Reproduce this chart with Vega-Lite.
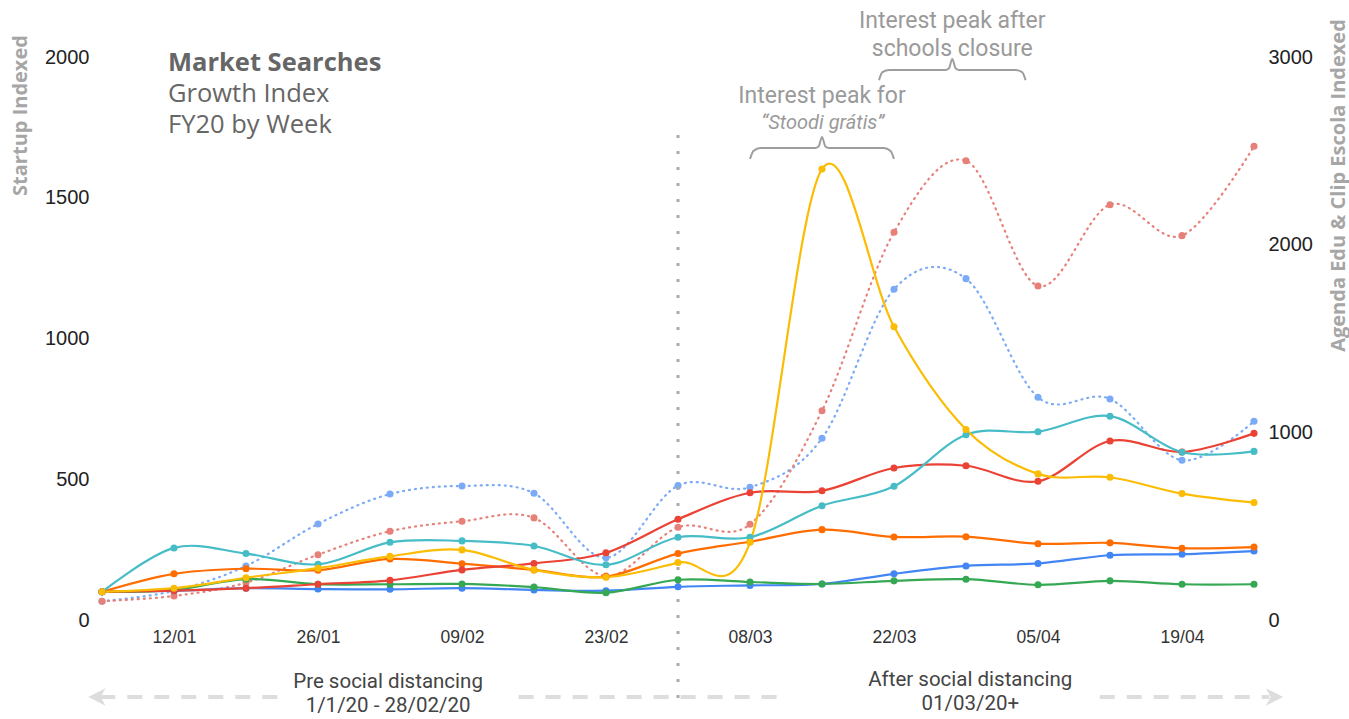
{
  "$schema": "https://vega.github.io/schema/vega-lite/v6.json",
  "width": 1152,
  "height": 563,
  "autosize": {"type": "none"},
  "padding": {"left": 102, "top": 57, "right": 95, "bottom": 99},
  "background": "white",
  "config": {
    "view": {"stroke": null},
    "axis": {"grid": false, "domain": false, "ticks": false, "labelFont": "Liberation Sans", "titleFont": "Open Sans"}
  },
  "datasets": {
    "startup": [
      {"week": "2020/01/05", "Blue": 100, "Green": 100, "Orange": 100, "Red": 100, "Teal": 100, "Yellow": 100},
      {"week": "2020/01/12", "Blue": 104, "Green": 107, "Orange": 164, "Red": 104, "Teal": 256, "Yellow": 113},
      {"week": "2020/01/19", "Blue": 113, "Green": 145, "Orange": 182, "Red": 113, "Teal": 236, "Yellow": 150},
      {"week": "2020/01/26", "Blue": 110, "Green": 127, "Orange": 177, "Red": 127, "Teal": 198, "Yellow": 184},
      {"week": "2020/02/02", "Blue": 109, "Green": 127, "Orange": 217, "Red": 141, "Teal": 276, "Yellow": 226},
      {"week": "2020/02/09", "Blue": 113, "Green": 128, "Orange": 200, "Red": 178, "Teal": 281, "Yellow": 249},
      {"week": "2020/02/16", "Blue": 107, "Green": 117, "Orange": 178, "Red": 201, "Teal": 263, "Yellow": 178},
      {"week": "2020/02/23", "Blue": 104, "Green": 97, "Orange": 154, "Red": 239, "Teal": 196, "Yellow": 152},
      {"week": "2020/03/01", "Blue": 118, "Green": 143, "Orange": 236, "Red": 358, "Teal": 294, "Yellow": 204},
      {"week": "2020/03/08", "Blue": 123, "Green": 135, "Orange": 278, "Red": 452, "Teal": 294, "Yellow": 276},
      {"week": "2020/03/15", "Blue": 128, "Green": 128, "Orange": 321, "Red": 459, "Teal": 406, "Yellow": 1602},
      {"week": "2020/03/22", "Blue": 164, "Green": 139, "Orange": 295, "Red": 540, "Teal": 475, "Yellow": 1042},
      {"week": "2020/03/29", "Blue": 192, "Green": 145, "Orange": 296, "Red": 548, "Teal": 658, "Yellow": 677},
      {"week": "2020/04/05", "Blue": 201, "Green": 125, "Orange": 271, "Red": 493, "Teal": 669, "Yellow": 519},
      {"week": "2020/04/12", "Blue": 230, "Green": 139, "Orange": 274, "Red": 636, "Teal": 724, "Yellow": 507},
      {"week": "2020/04/19", "Blue": 234, "Green": 127, "Orange": 255, "Red": 597, "Teal": 596, "Yellow": 449},
      {"week": "2020/04/26", "Blue": 245, "Green": 127, "Orange": 259, "Red": 663, "Teal": 599, "Yellow": 417}
    ],
    "apps": [
      {"week": "2020/01/05", "Agenda Edu": 100, "Clip Escola": 100},
      {"week": "2020/01/12", "Agenda Edu": 155, "Clip Escola": 128},
      {"week": "2020/01/19", "Agenda Edu": 288, "Clip Escola": 199},
      {"week": "2020/01/26", "Agenda Edu": 512, "Clip Escola": 348},
      {"week": "2020/02/02", "Agenda Edu": 671, "Clip Escola": 473},
      {"week": "2020/02/09", "Agenda Edu": 714, "Clip Escola": 526},
      {"week": "2020/02/16", "Agenda Edu": 675, "Clip Escola": 544},
      {"week": "2020/02/23", "Agenda Edu": 332, "Clip Escola": 234},
      {"week": "2020/03/01", "Agenda Edu": 716, "Clip Escola": 494},
      {"week": "2020/03/08", "Agenda Edu": 707, "Clip Escola": 510},
      {"week": "2020/03/15", "Agenda Edu": 968, "Clip Escola": 1115},
      {"week": "2020/03/22", "Agenda Edu": 1762, "Clip Escola": 2066},
      {"week": "2020/03/29", "Agenda Edu": 1819, "Clip Escola": 2447},
      {"week": "2020/04/05", "Agenda Edu": 1187, "Clip Escola": 1780},
      {"week": "2020/04/12", "Agenda Edu": 1178, "Clip Escola": 2213},
      {"week": "2020/04/19", "Agenda Edu": 851, "Clip Escola": 2048},
      {"week": "2020/04/26", "Agenda Edu": 1059, "Clip Escola": 2524}
    ]
  },
  "layer": [
    {
      "data": {"name": "apps"},
      "transform": [{"fold": ["Agenda Edu", "Clip Escola"], "as": ["series", "v"]}],
      "encoding": {
        "x": {"field": "week", "type": "temporal", "scale": {"domain": [{"year": 2020, "month": 1, "date": 5}, {"year": 2020, "month": 4, "date": 26}]}},
        "y": {
          "field": "v", "type": "quantitative",
          "scale": {"domain": [0, 3000], "nice": false},
          "axis": {"orient": "right", "values": [0, 1000, 2000, 3000], "format": "d", "labelFontSize": 20, "labelColor": "#222", "labelPadding": 14,
            "title": "Agenda Edu & Clip Escola Indexed", "titleFontSize": 20, "titleFontWeight": "bold", "titleColor": "#a6a6a6",
            "titleAngle": 270, "titleX": 84, "titleY": 128, "titleAlign": "center", "titleBaseline": "middle"}
        },
        "color": {"field": "series", "type": "nominal", "legend": null,
          "scale": {"domain": ["Agenda Edu", "Clip Escola", "Blue", "Green", "Orange", "Red", "Teal", "Yellow"],
            "range": ["#7BAAF7", "#E8807A", "#4285F4", "#34A853", "#FF6D01", "#EA4335", "#46BDC6", "#FBBC04"]}}
      },
      "layer": [
        {"mark": {"type": "line", "interpolate": "cardinal", "strokeWidth": 2.2, "strokeDash": [1, 5], "strokeCap": "round"}},
        {"mark": {"type": "point", "filled": true, "opacity": 1, "size": 50}}
      ]
    },
    {
      "encoding": {
        "x": {"field": "week", "type": "temporal",
          "scale": {"domain": [{"year": 2020, "month": 1, "date": 5}, {"year": 2020, "month": 4, "date": 26}]},
          "axis": {"values": [
            {"year": 2020, "month": 1, "date": 12}, {"year": 2020, "month": 1, "date": 26},
            {"year": 2020, "month": 2, "date": 9}, {"year": 2020, "month": 2, "date": 23},
            {"year": 2020, "month": 3, "date": 8}, {"year": 2020, "month": 3, "date": 22},
            {"year": 2020, "month": 4, "date": 5}, {"year": 2020, "month": 4, "date": 19}],
            "format": "%d/%m", "title": null, "labelFontSize": 17.5, "labelColor": "#333", "labelPadding": 8}
        },
        "y": {"field": "v", "type": "quantitative",
          "scale": {"domain": [0, 2000], "nice": false},
          "axis": {"orient": "left", "values": [0, 500, 1000, 1500, 2000], "format": "d", "labelFontSize": 20, "labelColor": "#222", "labelPadding": 13,
            "title": "Startup Indexed", "titleFontSize": 20, "titleFontWeight": "bold", "titleColor": "#a6a6a6",
            "titleAngle": 270, "titleX": -82, "titleY": 58, "titleAlign": "center", "titleBaseline": "middle"}
        }
      },
      "layer": [
        {
          "data": {"values": [{"week": "2020/03/01", "v": 1723, "v2": -302}]},
          "mark": {"type": "rule", "color": "#aaaaaa", "strokeWidth": 3, "strokeDash": [3, 13]},
          "encoding": {"y2": {"field": "v2"}}
        },
        {
          "data": {"values": [
            {"week": "2020/01/04 20:00", "end": "2020/01/22 18:00", "v": -273.5},
            {"week": "2020/02/14 12:00", "end": "2020/03/11 10:00", "v": -273.5},
            {"week": "2020/04/11 00:00", "end": "2020/04/27 12:00", "v": -273.5}
          ]},
          "mark": {"type": "rule", "color": "#dddddd", "strokeWidth": 4, "strokeDash": [15, 12]},
          "encoding": {"x2": {"field": "end"}}
        },
        {
          "data": {"values": [{"week": "2020/01/04 12:00", "v": -273.5}]},
          "mark": {"type": "point", "filled": true, "opacity": 1, "color": "#dddddd", "size": 300, "shape": "M -1 0 L 1 -1 L 0.45 0 L 1 1 Z"}
        },
        {
          "data": {"values": [{"week": "2020/04/28 00:00", "v": -273.5}]},
          "mark": {"type": "point", "filled": true, "opacity": 1, "color": "#dddddd", "size": 300, "shape": "M 1 0 L -1 -1 L -0.45 0 L -1 1 Z"}
        },
        {
          "data": {"values": [
            {"b": 1, "week": "2020/03/08 00:00", "v": 1638},
            {"b": 1, "week": "2020/03/08 08:00", "v": 1666},
            {"b": 1, "week": "2020/03/09 00:00", "v": 1677},
            {"b": 1, "week": "2020/03/14 08:00", "v": 1677},
            {"b": 1, "week": "2020/03/14 16:00", "v": 1682},
            {"b": 1, "week": "2020/03/15 00:00", "v": 1716},
            {"b": 1, "week": "2020/03/15 08:00", "v": 1682},
            {"b": 1, "week": "2020/03/15 16:00", "v": 1677},
            {"b": 1, "week": "2020/03/21 00:00", "v": 1677},
            {"b": 1, "week": "2020/03/21 16:00", "v": 1666},
            {"b": 1, "week": "2020/03/22 00:00", "v": 1638},
            {"b": 2, "week": "2020/03/20 13:00", "v": 1918},
            {"b": 2, "week": "2020/03/20 21:00", "v": 1946},
            {"b": 2, "week": "2020/03/21 13:00", "v": 1954},
            {"b": 2, "week": "2020/03/27 00:00", "v": 1954},
            {"b": 2, "week": "2020/03/27 08:00", "v": 1959},
            {"b": 2, "week": "2020/03/27 16:00", "v": 1993},
            {"b": 2, "week": "2020/03/28 00:00", "v": 1959},
            {"b": 2, "week": "2020/03/28 08:00", "v": 1954},
            {"b": 2, "week": "2020/04/02 19:00", "v": 1954},
            {"b": 2, "week": "2020/04/03 11:00", "v": 1946},
            {"b": 2, "week": "2020/04/03 19:00", "v": 1918}
          ]},
          "mark": {"type": "line", "interpolate": "monotone", "color": "#9e9e9e", "strokeWidth": 2},
          "encoding": {"detail": {"field": "b", "type": "nominal"}}
        },
        {
          "data": {"name": "startup"},
          "transform": [{"fold": ["Blue", "Green", "Orange", "Red", "Teal", "Yellow"], "as": ["series", "v"]}],
          "encoding": {
            "color": {"field": "series", "type": "nominal", "legend": null,
              "scale": {"domain": ["Agenda Edu", "Clip Escola", "Blue", "Green", "Orange", "Red", "Teal", "Yellow"],
                "range": ["#7BAAF7", "#E8807A", "#4285F4", "#34A853", "#FF6D01", "#EA4335", "#46BDC6", "#FBBC04"]}}
          },
          "layer": [
            {"mark": {"type": "line", "interpolate": "cardinal", "strokeWidth": 2.2}},
            {"mark": {"type": "point", "filled": true, "opacity": 1, "size": 50}}
          ]
        },
        {
          "data": {"values": [{"week": "2020/01/11 10:00", "v": 1951, "t": "Market Searches"}]},
          "mark": {"type": "text", "align": "left", "baseline": "alphabetic", "font": "Open Sans", "fontSize": 25.5, "fontWeight": "bold", "color": "#666666"},
          "encoding": {"text": {"field": "t"}}
        },
        {
          "data": {"values": [
            {"week": "2020/01/11 10:00", "v": 1841, "t": "Growth Index"},
            {"week": "2020/01/11 10:00", "v": 1729, "t": "FY20 by Week"}
          ]},
          "mark": {"type": "text", "align": "left", "baseline": "alphabetic", "font": "Open Sans", "fontSize": 25.5, "color": "#666666"},
          "encoding": {"text": {"field": "t"}}
        },
        {
          "data": {"values": [
            {"week": "2020/03/15 00:00", "v": 1836, "t": "Interest peak for"},
            {"week": "2020/03/27 16:00", "v": 2102, "t": "Interest peak after"},
            {"week": "2020/03/27 16:00", "v": 2004, "t": "schools closure"}
          ]},
          "mark": {"type": "text", "align": "center", "baseline": "alphabetic", "font": "Roboto", "fontSize": 23, "color": "#9a9a9a"},
          "encoding": {"text": {"field": "t"}}
        },
        {
          "data": {"values": [{"week": "2020/03/15 02:00", "v": 1743, "t": "“Stoodi grátis”"}]},
          "mark": {"type": "text", "align": "center", "baseline": "alphabetic", "font": "Roboto", "fontSize": 20, "fontStyle": "italic", "color": "#9a9a9a"},
          "encoding": {"text": {"field": "t"}}
        },
        {
          "data": {"values": [
            {"week": "2020/02/01 19:30", "v": -220, "t": "Pre social distancing"},
            {"week": "2020/02/01 19:30", "v": -305, "t": "1/1/20 - 28/02/20"},
            {"week": "2020/03/29 10:00", "v": -213, "t": "After social distancing"},
            {"week": "2020/03/29 10:00", "v": -298, "t": "01/03/20+"}
          ]},
          "mark": {"type": "text", "align": "center", "baseline": "middle", "font": "Roboto", "fontSize": 20.5, "color": "#444444"},
          "encoding": {"text": {"field": "t"}}
        }
      ]
    }
  ],
  "resolve": {"scale": {"y": "independent"}}
}
